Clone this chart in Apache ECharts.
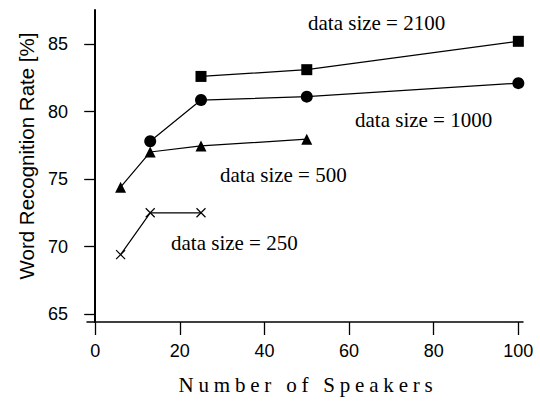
<!DOCTYPE html>
<html>
<head>
<meta charset="utf-8">
<script src="https://cdn.jsdelivr.net/npm/echarts@6/dist/echarts.min.js"></script>
<style>html,body{margin:0;padding:0;background:#fff}#c{width:540px;height:401px}</style>
</head>
<body>
<div id="c"></div>
<script>
// ---- data ----
const speakers2100 = [25, 50, 100];
const rate2100 = [82.6, 83.1, 85.2];
const speakers1000 = [13, 25, 50, 100];
const rate1000 = [77.8, 80.85, 81.1, 82.1];
const speakers500 = [6, 13, 25, 50];
const rate500 = [74.4, 77.0, 77.45, 77.95];
const speakers250 = [6, 13, 25];
const rate250 = [69.4, 72.5, 72.5];
const xTicks = [0, 20, 40, 60, 80, 100];
const yTicks = [65, 70, 75, 80, 85];
const seriesLabels = ['data size = 2100', 'data size = 1000', 'data size = 500', 'data size = 250'];
const xTitle = 'Number of Speakers';
const yTitle = 'Word Recognition Rate [%]';

const zip = (xs, ys) => xs.map((x, i) => [x, ys[i]]);
const lineStyle = { color: '#000', width: 1.2 };
const crossPath = 'path://M0,0L10,10M10,0L0,10';

const chart = echarts.init(document.getElementById('c'), null, { renderer: 'svg' });
const serifFont = '"Liberation Serif","Times New Roman",serif';
const sansFont = '"Liberation Sans",Arial,sans-serif';

chart.setOption({
  backgroundColor: '#fff',
  animation: false,
  grid: { left: 87, right: 17, top: 10, bottom: 79 },
  xAxis: {
    type: 'value', min: -1.94, max: 101.1,
    axisLine: { show: true, lineStyle: { color: '#000', width: 1.5 } },
    axisTick: { show: true, length: 13, customValues: xTicks, lineStyle: { color: '#000', width: 1.3 } },
    axisLabel: { customValues: xTicks, margin: 20, color: '#000', fontSize: 18, fontFamily: sansFont },
    splitLine: { show: false }
  },
  yAxis: {
    type: 'value', min: 64.41, max: 87.52,
    axisLine: { show: true, lineStyle: { color: '#000', width: 2 } },
    axisTick: { show: true, length: 11, customValues: yTicks, lineStyle: { color: '#000', width: 1.3 } },
    axisLabel: { customValues: yTicks, margin: 19, color: '#000', fontSize: 18, fontFamily: sansFont },
    splitLine: { show: false }
  },
  series: [
    { type: 'line', data: zip(speakers2100, rate2100), symbol: 'rect', symbolSize: 11,
      lineStyle, itemStyle: { color: '#000' } },
    { type: 'line', data: zip(speakers1000, rate1000), symbol: 'circle', symbolSize: 12,
      lineStyle, itemStyle: { color: '#000' } },
    { type: 'line', data: zip(speakers500, rate500), symbol: 'triangle', symbolSize: 11,
      lineStyle, itemStyle: { color: '#000' } },
    { type: 'line', data: zip(speakers250, rate250), symbol: crossPath, symbolSize: 9,
      lineStyle, itemStyle: { color: 'rgba(0,0,0,0)', borderColor: '#000', borderWidth: 1.2 } }
  ],
  graphic: [
    { type: 'text', left: 308, top: 12, style: { text: seriesLabels[0], font: '21px ' + serifFont, fill: '#000' } },
    { type: 'text', left: 355, top: 109, style: { text: seriesLabels[1], font: '21px ' + serifFont, fill: '#000' } },
    { type: 'text', left: 220, top: 164, style: { text: seriesLabels[2], font: '21px ' + serifFont, fill: '#000' } },
    { type: 'text', left: 171, top: 232, style: { text: seriesLabels[3], font: '21px ' + serifFont, fill: '#000' } },
    { type: 'text', x: 308, y: 385, style: { text: xTitle, font: '21px ' + serifFont, fill: '#000', align: 'center', verticalAlign: 'middle' } },
    { type: 'text', x: 26, y: 156, rotation: Math.PI / 2, style: { text: yTitle, font: '20.5px ' + sansFont, fill: '#000', align: 'center', verticalAlign: 'middle' } }
  ]
});

function spaceTitle() {
  document.querySelectorAll('#c text').forEach(function (t) {
    if (t.textContent === xTitle) t.style.letterSpacing = '4.8px';
  });
}
spaceTitle();
chart.on('finished', spaceTitle);
setTimeout(spaceTitle, 0);
</script>
</body>
</html>
